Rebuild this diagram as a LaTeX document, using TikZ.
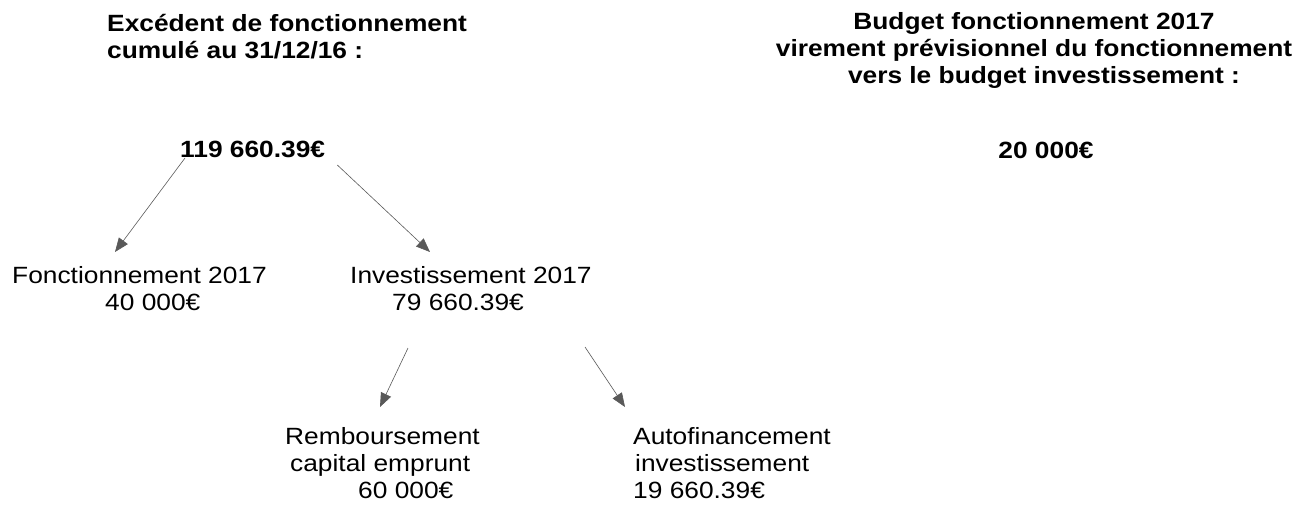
\documentclass[tikz,border=0pt]{standalone}
\usepackage{fontspec}
\setmainfont[FakeStretch=1.12]{Liberation Sans}
\setsansfont[FakeStretch=1.12]{Liberation Sans}
\usetikzlibrary{arrows.meta, positioning, calc}

\begin{document}
\begin{tikzpicture}[
    x=1pt, y=-1pt,
    font=\sffamily\fontsize{23.5}{27}\selectfont,
    >={Triangle[length=14pt,width=11pt]},
    title/.style={inner sep=0pt, font=\sffamily\bfseries\fontsize{23.5}{27}\selectfont},
    amount/.style={inner sep=0pt, anchor=base west, align=left},
    flow/.style={->, draw=black!65, line width=0.6pt}
]
\useasboundingbox (0,0) rectangle (1302,511);

% TITLES (base = last line)
\node[title, anchor=base west, align=left] (excedent) at (107,59) {Excédent de fonctionnement\\cumulé au 31/12/16 :};
\node[title, anchor=base, align=center] (virement) at (1034,84) {Budget fonctionnement 2017\\virement prévisionnel du fonctionnement\hspace*{16pt}\\\hspace*{20pt}vers le budget investissement :};

% AMOUNTS
\node[title, anchor=base west] (total) at (180,157) {119 660.39€};
\node[title, anchor=base] (transfer) at (1046,158) {20 000€};

% SPLIT OF THE SURPLUS
\node[amount] (fonct) at (12,310) {Fonctionnement 2017\\\hspace*{93pt}40 000€};
\node[amount] (invest) at (350,310) {Investissement 2017\\\hspace*{42pt}79 660.39€};

% SPLIT OF THE INVESTMENT
\node[amount] (rembt) at (285,498) {Remboursement\\\hspace*{5pt}capital emprunt\\\hspace*{73pt}60 000€};
\node[amount] (autofin) at (633,498) {Autofinancement\\\hspace*{2pt}investissement\\19 660.39€};

\draw[flow] ([xshift=5pt,yshift=-1pt]total.base west) -- ([xshift=103pt,yshift=58pt]fonct.base west);
\draw[flow] ([xshift=12pt,yshift=-8pt]total.base east) -- ([xshift=80pt,yshift=58pt]invest.base west);
\draw[flow] ([xshift=58pt,yshift=-38pt]invest.base west) -- ([xshift=95pt,yshift=91pt]rembt.base west);
\draw[flow] ([xshift=235pt,yshift=-37pt]invest.base west) -- ([xshift=-8pt,yshift=91pt]autofin.base west);

\end{tikzpicture}
\end{document}
